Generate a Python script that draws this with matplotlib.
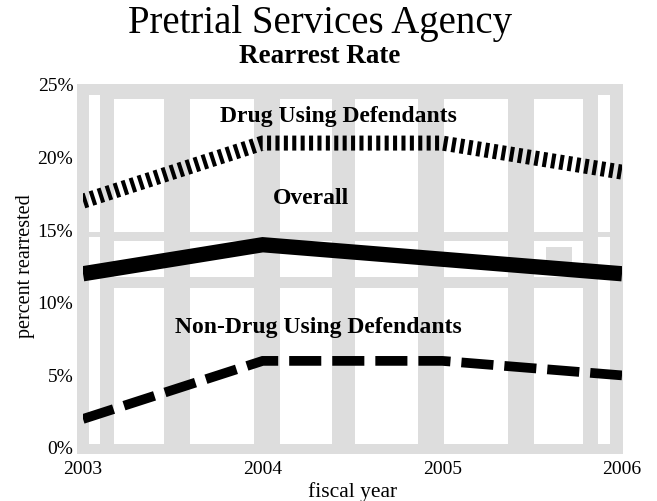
import matplotlib.pyplot as plt
from matplotlib.patches import Rectangle

anios = [2003, 2004, 2005, 2006]
drug = [17, 21, 21, 19]
overall = [12, 14, 13, 12]
non_drug = [2, 6, 6, 5]
yticks = [0, 5, 10, 15, 20, 25]
ytick_labels = ['0%', '5%', '10%', '15%', '20%', '25%']

plt.rcParams['font.family'] = ['Liberation Serif', 'DejaVu Serif']

W, H = 657, 501
fig = plt.figure(figsize=(W / 100, H / 100), dpi=100)

# fondo gris con "ventanas" blancas, en pixeles
bg = fig.add_axes([0, 0, 1, 1], zorder=0)
bg.set_xlim(0, W)
bg.set_ylim(H, 0)
bg.axis('off')
gris = '#dddddd'
bg.add_patch(Rectangle((77, 84), 546, 370, color=gris, lw=0))
columnas = [(114, 164), (190, 254), (280, 332), (355, 418), (444, 508), (534, 583)]
for x0, x1 in columnas:
    for y0, y1 in [(99, 232), (241, 277), (288, 444)]:
        bg.add_patch(Rectangle((x0, y0), x1 - x0, y1 - y0, color='white', lw=0))
for x0, x1 in [(89, 100), (598, 610)]:
    for y0, y1 in [(95, 232), (237, 444)]:
        bg.add_patch(Rectangle((x0, y0), x1 - x0, y1 - y0, color='white', lw=0))
bg.add_patch(Rectangle((546, 247), 26, 15, color=gris, lw=0))

ax = fig.add_axes([83 / W, (H - 448) / H, 539 / W, 363 / H], zorder=1)
ax.patch.set_alpha(0)

ax.plot(anios, drug, color='black', lw=10.8, linestyle=(0, (0.27, 0.29)),
        dash_capstyle='butt', dash_joinstyle='miter')
ax.plot(anios, overall, color='black', lw=11, solid_capstyle='butt',
        solid_joinstyle='miter')
ax.plot(anios, non_drug, color='black', lw=7, linestyle=(0, (3.3, 1.13)),
        dash_capstyle='butt', dash_joinstyle='miter')

ax.text(2004.42, 22.45, 'Drug Using Defendants', ha='center', va='baseline',
        fontsize=17, fontweight='bold')
ax.text(2004.27, 16.8, 'Overall', ha='center', va='baseline',
        fontsize=17, fontweight='bold')
ax.text(2004.31, 7.92, 'Non-Drug Using Defendants', ha='center', va='baseline',
        fontsize=17, fontweight='bold')

ax.set_xlim(2003, 2006)
ax.set_ylim(0, 25)
ax.set_xticks(anios)
ax.set_xticklabels([str(a) for a in anios])
ax.set_yticks(yticks)
ax.set_yticklabels(ytick_labels)
ax.tick_params(length=0, labelsize=14)
ax.tick_params(axis='y', pad=7)
ax.tick_params(axis='x', pad=9)
for s in ax.spines.values():
    s.set_visible(False)

ax.set_xlabel('fiscal year', fontsize=15.5, labelpad=3)
ax.set_ylabel('percent rearrested', fontsize=14.5, labelpad=2)

fig.text(320 / W, (H - 33) / H, 'Pretrial Services Agency', ha='center',
         va='baseline', fontsize=28)
fig.text(320 / W, (H - 63) / H, 'Rearrest Rate', ha='center', va='baseline',
         fontsize=19.5, fontweight='bold')

fig.savefig('out.png', dpi=100)
